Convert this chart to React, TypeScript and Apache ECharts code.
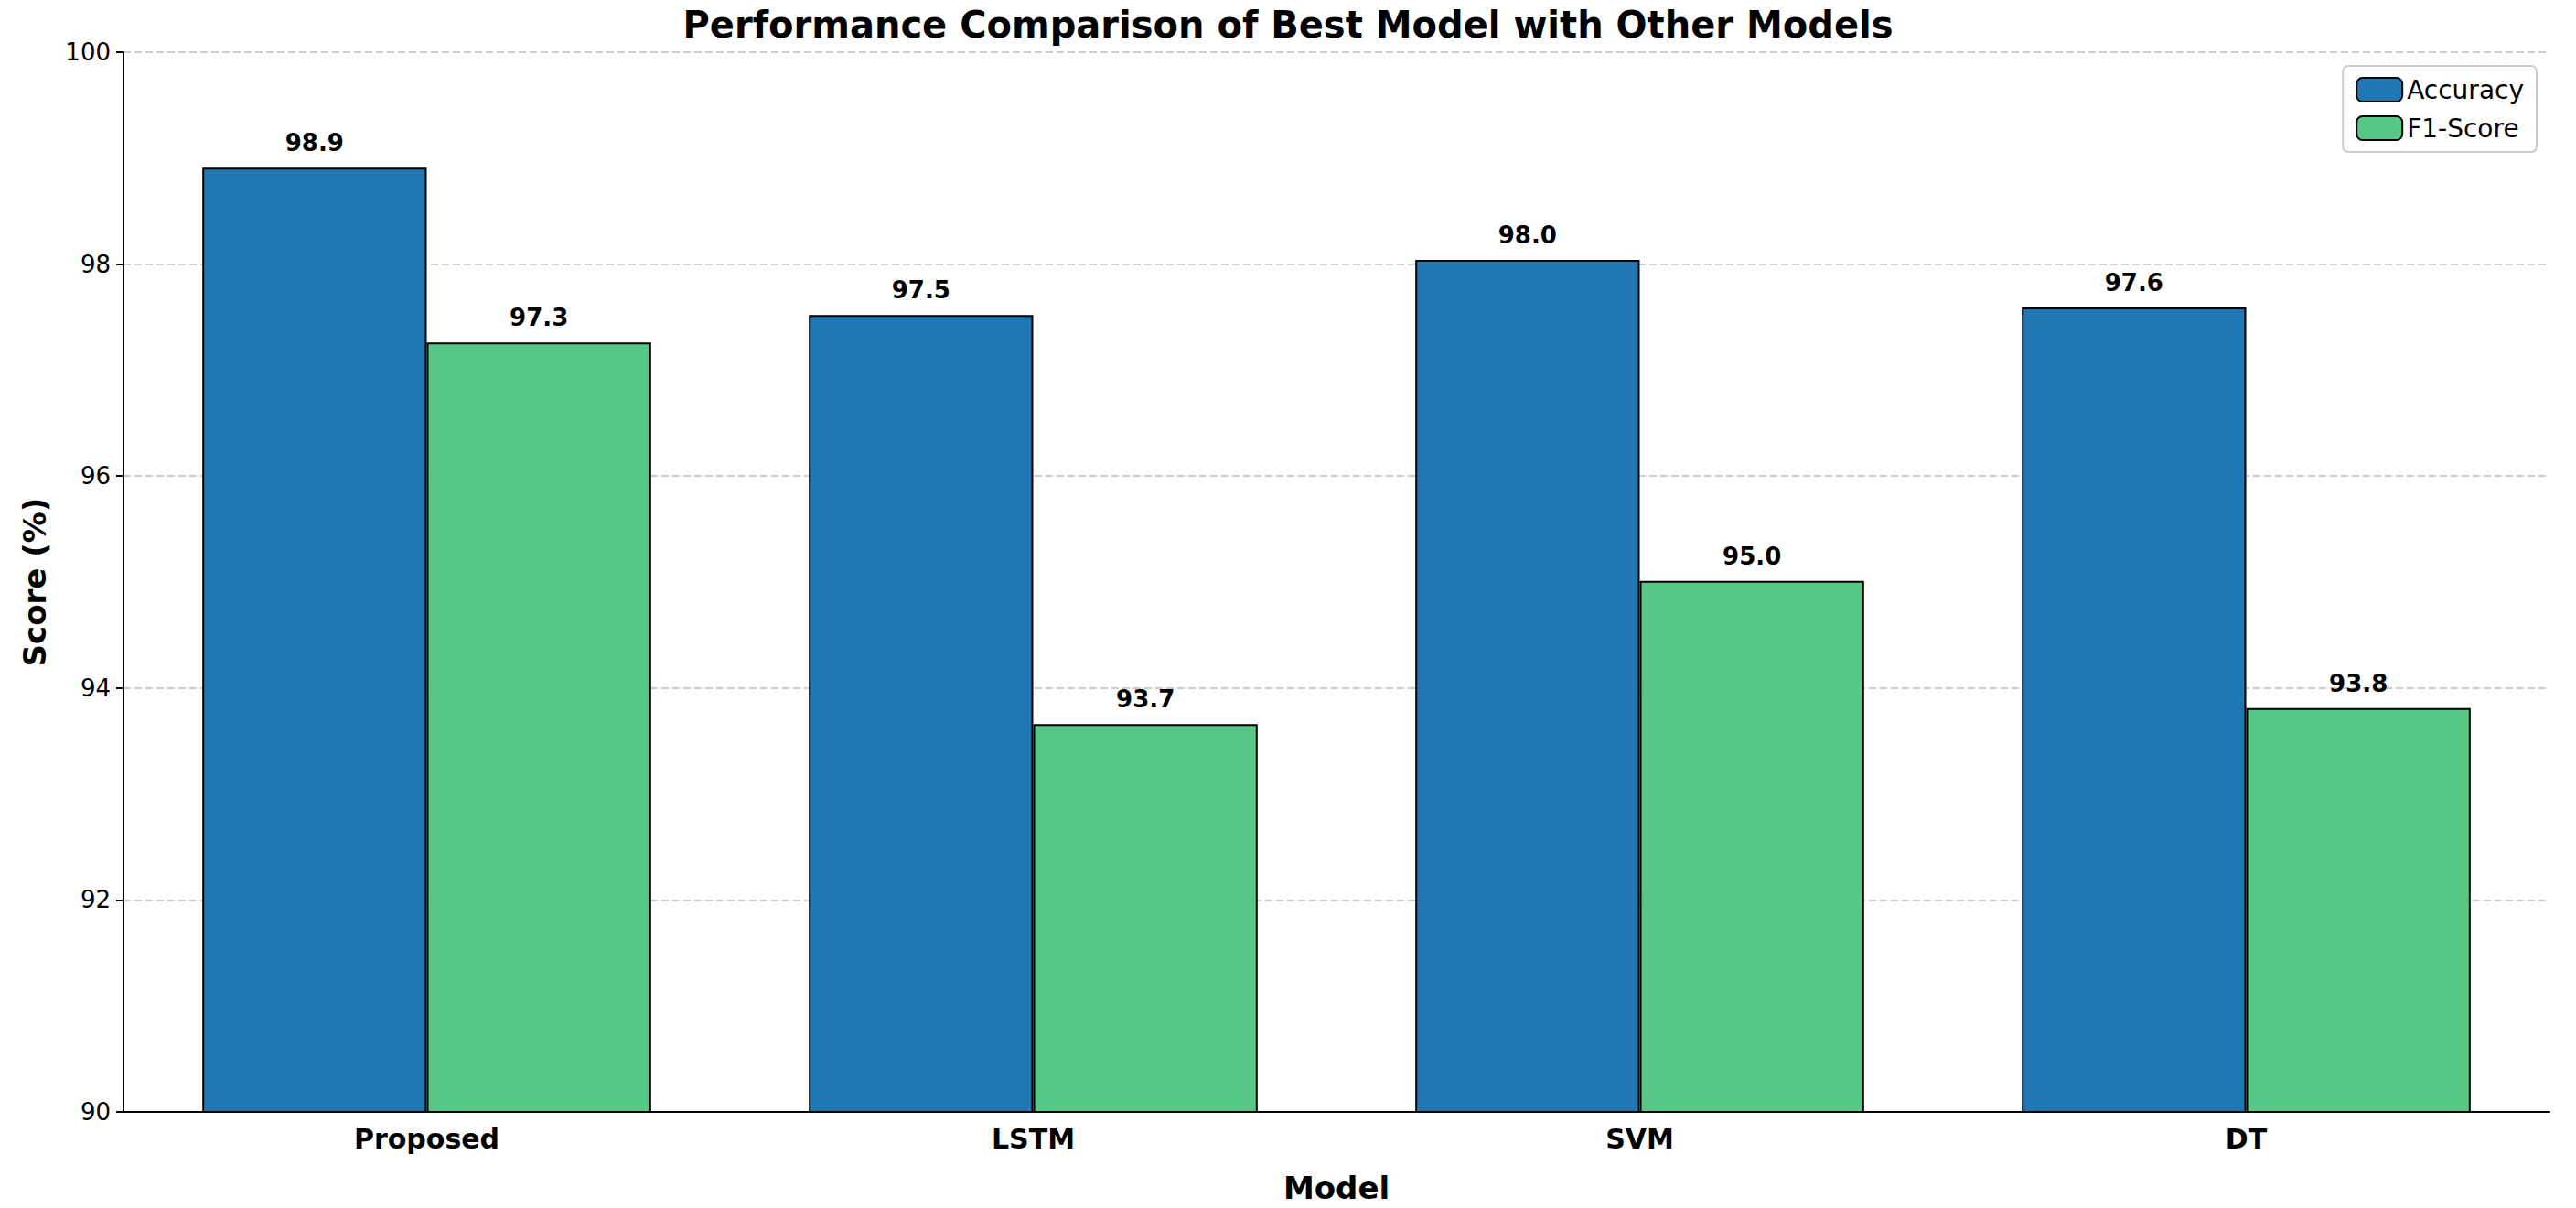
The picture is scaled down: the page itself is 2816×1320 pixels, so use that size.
import React, { useEffect, useRef } from "react";
import * as echarts from "echarts";

const models = ["Proposed", "LSTM", "SVM", "DT"];
const accuracy = [98.91, 97.52, 98.04, 97.59];
const f1Score = [97.26, 93.66, 95.01, 93.81];
const yTicks = [90, 92, 94, 96, 98, 100];

const font = "DejaVu Sans";

const App: React.FC = () => {
  const chartRef = useRef<HTMLDivElement>(null);

  useEffect(() => {
    if (!chartRef.current) return;
    document.body.style.margin = "0";
    const myChart = echarts.init(chartRef.current, null, { renderer: "svg" });

    const label = {
      show: true,
      position: "top",
      distance: 14,
      fontFamily: font,
      fontWeight: "bold",
      fontSize: 26,
      color: "#000",
      formatter: (p: any) => Number(p.value).toFixed(1),
    };

    const option = {
      animation: false,
      textStyle: { fontFamily: font },
      title: {
        text: "Performance Comparison of Best Model with Other Models",
        left: "center",
        top: 2,
        textStyle: { fontFamily: font, fontWeight: "bold", fontSize: 40, color: "#000" },
      },
      legend: {
        right: 43,
        top: 72,
        orient: "vertical",
        itemWidth: 50,
        itemHeight: 26,
        itemGap: 14,
        padding: [12, 14, 12, 14],
        borderColor: "#ccc",
        borderWidth: 2,
        borderRadius: 6,
        textStyle: { fontFamily: font, fontSize: 28, color: "#000" },
        data: ["Accuracy", "F1-Score"],
      },
      grid: { left: 135, right: 29, top: 57, bottom: 99 },
      xAxis: {
        type: "category",
        data: models,
        name: "Model",
        nameLocation: "middle",
        nameGap: 66,
        nameTextStyle: { fontFamily: font, fontWeight: "bold", fontSize: 34, color: "#000" },
        axisLine: { lineStyle: { color: "#000", width: 2 } },
        axisTick: { alignWithLabel: true, length: 8, lineStyle: { color: "#000", width: 2 } },
        axisLabel: { fontFamily: font, fontWeight: "bold", fontSize: 30, color: "#000", margin: 14 },
      },
      yAxis: {
        type: "value",
        min: yTicks[0],
        max: yTicks[yTicks.length - 1],
        interval: 2,
        name: "Score (%)",
        nameLocation: "middle",
        nameGap: 80,
        nameTextStyle: { fontFamily: font, fontWeight: "bold", fontSize: 34, color: "#000" },
        axisLine: { show: true, lineStyle: { color: "#000", width: 2 } },
        axisTick: { show: true, length: 8, lineStyle: { color: "#000", width: 2 } },
        axisLabel: { fontFamily: font, fontSize: 26, color: "#000", margin: 14 },
        splitLine: { lineStyle: { color: "#ccc", type: "dashed", width: 2 } },
      },
      series: [
        {
          name: "Accuracy",
          type: "bar",
          data: accuracy,
          barGap: "0%",
          barCategoryGap: "26%",
          itemStyle: { color: "#1f77b4", borderColor: "#000", borderWidth: 2 },
          label,
        },
        {
          name: "F1-Score",
          type: "bar",
          data: f1Score,
          itemStyle: { color: "#57c785", borderColor: "#000", borderWidth: 2 },
          label,
        },
      ],
    };

    myChart.setOption(option as any);
    const resizeObserver = new ResizeObserver(() => myChart.resize());
    resizeObserver.observe(chartRef.current);

    return () => {
      myChart.dispose();
      resizeObserver.disconnect();
    };
  }, []);

  return <div ref={chartRef} style={{ width: "2816px", height: "1320px" }} />;
};

export default App;
